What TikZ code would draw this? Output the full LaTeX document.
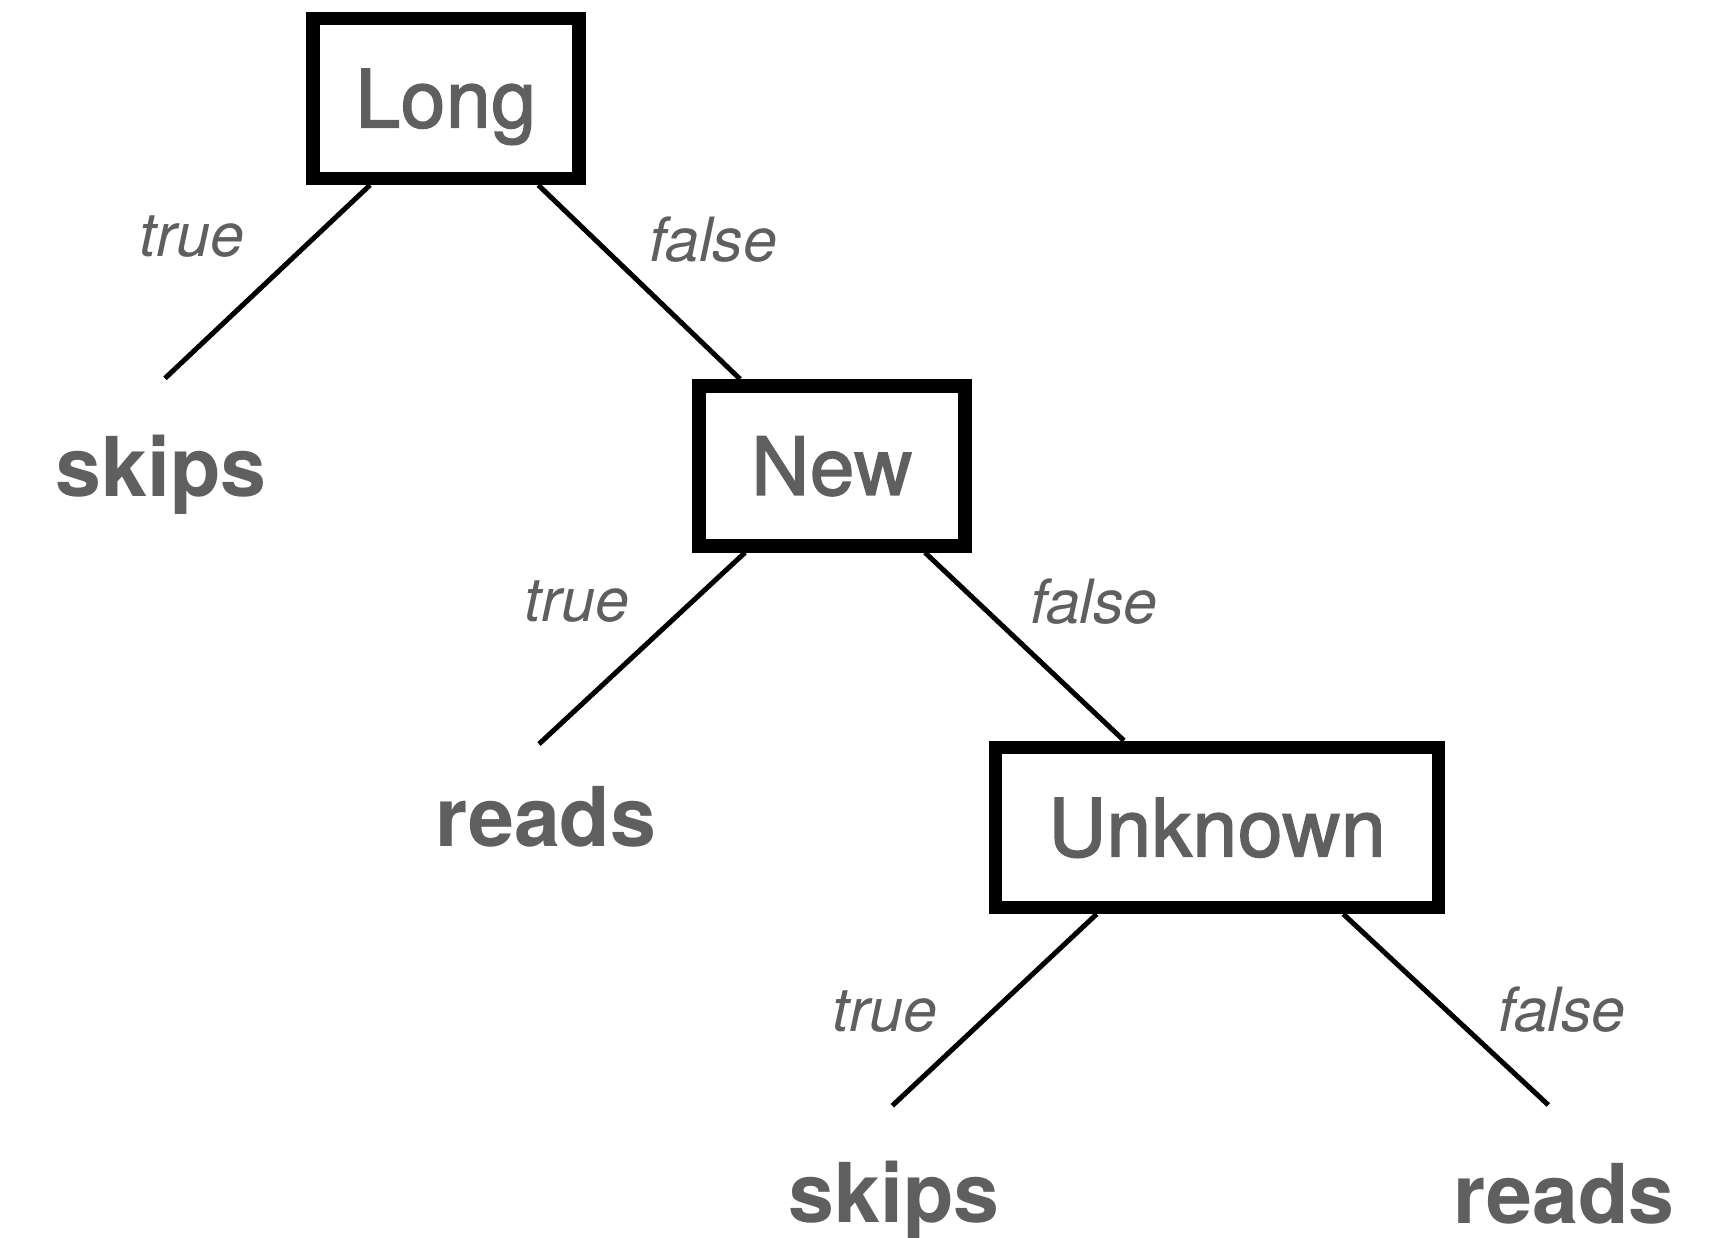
\documentclass[tikz,border=0pt]{standalone}
\usepackage{fontspec}
\setmainfont{TeX Gyre Heros}
\newfontfamily\testfont[FakeBold=2,LetterSpace=1]{TeX Gyre Heros}
\usepackage{tikz}
\usetikzlibrary{positioning,calc}
\definecolor{textgray}{RGB}{95,95,95}

\begin{document}
\begin{tikzpicture}[
x=1pt,
y=-1pt,
box/.style={
draw,
line width=13.5pt,
text=textgray,
font=\testfont\fontsize{80}{96}\selectfont,
minimum width=266pt,
minimum height=160pt,
text height=58pt,
text depth=0pt,
inner sep=0pt
},
leaf/.style={
text=textgray,
font=\fontsize{82.5}{99}\selectfont\bfseries,
anchor=base,
inner sep=0pt
},
cond/.style={
text=textgray,
font=\fontsize{61}{73}\selectfont\itshape,
anchor=base,
inner sep=0pt
},
edge/.style={
line width=5pt
}
]

\useasboundingbox (0,0) rectangle (1731,1237);


% Tests

\node (long) [box] at (445.8,98.3) {Long};

\node (new) [box] at (831.8,465.8) {New};

\node (unknown) [box, minimum width=442.6pt] at (1217,827.3) {Unknown};


% Outcomes

\node (skipsA) [leaf] at (160.8,496.5) {skips};

\node (readsA) [leaf] at (546,846) {reads};

\node (skipsB) [leaf] at (894.2,1222.5) {skips};

\node (readsB) [leaf] at (1564.2,1223) {reads};


\coordinate (skipsA-end) at (165,378.3);
\coordinate (readsA-end) at (539,744);
\coordinate (skipsB-end) at (892.3,1105.7);
\coordinate (readsB-end) at (1548.3,1105);


% Branches

\draw[edge] ([xshift=-75.8pt]long.south) -- (skipsA-end);
\draw[edge] ([xshift=92.5pt]long.south) -- ([xshift=48pt]new.north west);

\draw[edge] ([xshift=-86.8pt]new.south) -- (readsA-end);
\draw[edge] ([xshift=93.2pt]new.south) -- ([xshift=135pt]unknown.north west);

\draw[edge] ([xshift=-120.3pt]unknown.south) -- (skipsB-end);
\draw[edge] ([xshift=126.3pt]unknown.south) -- (readsB-end);


% Branch labels

\node (longT) [cond] at (192,256.7) {true};
\node (longF) [cond] at (713.3,261) {false};

\node (newT) [cond] at (577,621) {true};
\node (newF) [cond] at (1094,623.3) {false};

\node (unknownT) [cond] at (884.7,1031.7) {true};
\node (unknownF) [cond] at (1562,1031.7) {false};


\end{tikzpicture}
\end{document}
